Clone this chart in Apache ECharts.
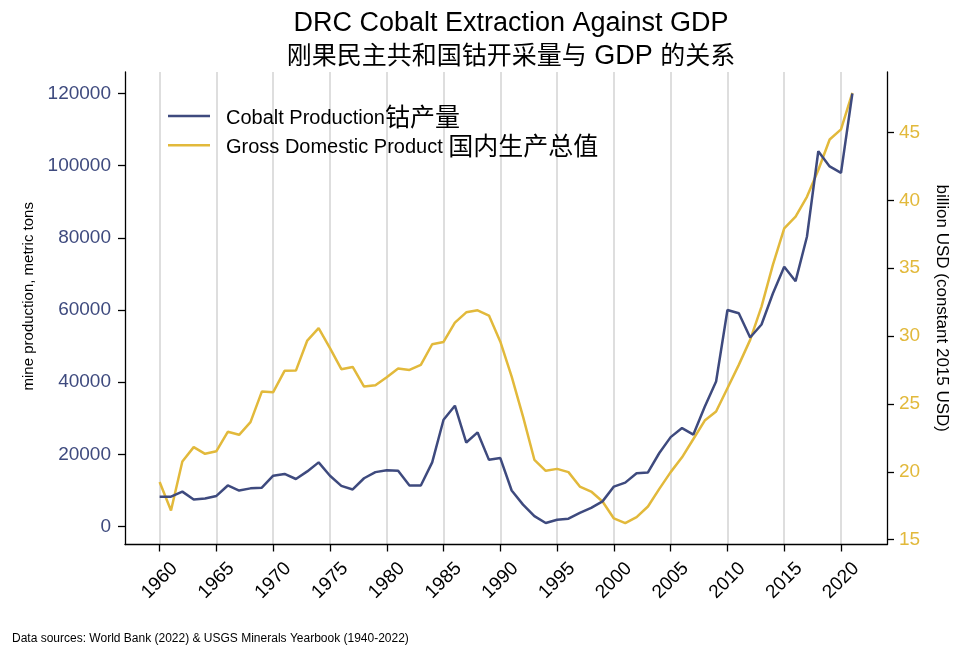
<!DOCTYPE html>
<html>
<head>
<meta charset="utf-8">
<script src="https://cdn.jsdelivr.net/npm/echarts@6/dist/echarts.min.js"></script>
<style>html,body{margin:0;padding:0;background:#fff}#c{width:960px;height:658px}</style>
</head>
<body>
<div id="c"></div>
<script>
const years = [1960,1961,1962,1963,1964,1965,1966,1967,1968,1969,1970,1971,1972,1973,1974,1975,1976,1977,1978,1979,1980,1981,1982,1983,1984,1985,1986,1987,1988,1989,1990,1991,1992,1993,1994,1995,1996,1997,1998,1999,2000,2001,2002,2003,2004,2005,2006,2007,2008,2009,2010,2011,2012,2013,2014,2015,2016,2017,2018,2019,2020,2021];
const cobalt = [8300,8300,9700,7500,7800,8500,11400,10000,10600,10800,14100,14600,13200,15300,17800,14100,11300,10300,13400,15100,15600,15500,11400,11400,17800,29600,33500,23300,26100,18500,19000,10000,6100,2900,1000,1900,2200,3800,5200,7000,11100,12200,14800,15000,20400,24800,27300,25500,33200,40200,60000,59100,52400,56000,64600,72000,68000,80300,104000,99800,98000,120000];
const gdp = [19.25,17.16,20.76,21.82,21.33,21.52,22.95,22.73,23.66,25.91,25.87,27.44,27.46,29.67,30.58,29.11,27.56,27.73,26.28,26.38,26.97,27.61,27.51,27.88,29.40,29.57,30.99,31.75,31.90,31.51,29.59,27.02,24.07,20.89,20.08,20.22,19.98,18.92,18.55,17.82,16.57,16.23,16.67,17.45,18.75,19.98,21.07,22.42,23.78,24.44,26.16,27.88,29.72,32.17,35.24,37.94,38.79,40.26,42.23,44.48,45.22,47.91];
const xTicks = [1960,1965,1970,1975,1980,1985,1990,1995,2000,2005,2010,2015,2020];
const leftTicks = [0,20000,40000,60000,80000,100000,120000];
const rightTicks = [15,20,25,30,35,40,45];
const seriesNames = ['Cobalt Production钴产量', 'Gross Domestic Product 国内生产总值'];
const titleLines = ['DRC Cobalt Extraction Against GDP', '刚果民主共和国钴开采量与 GDP 的关系'];
const leftName = 'mine production, metric tons';
const rightName = 'billion USD (constant 2015 USD)';
const source = 'Data sources: World Bank (2022) & USGS Minerals Yearbook (1940-2022)';

const LAT = "'Liberation Sans', Arial, sans-serif";
const CJK = "'Noto Sans CJK SC', sans-serif";
const FONT = "'Liberation Sans', 'Noto Sans CJK SC', sans-serif";
const BLUE = '#3e4a7e';
const GOLD = '#e2b93b';

// split into Latin / CJK runs for rich text
function richify(s, latKey) {
  latKey = latKey || 'l';
  return s.split(/([\u3400-\u9fff]+)/).filter(p => p.length).map(p =>
    /[\u3400-\u9fff]/.test(p) ? '{c|' + p + '}' : '{' + latKey + '|' + p + '}').join('');
}

const chart = echarts.init(document.getElementById('c'), null, {renderer: 'canvas'});
chart.setOption({
  animation: false,
  backgroundColor: '#fff',
  textStyle: {fontFamily: FONT},
  title: {
    text: richify(titleLines[0], 'l') + '\n' + richify(titleLines[1], 'g'),
    left: 506, textAlign: 'center', top: 3,
    textStyle: {
      fontFamily: FONT, fontSize: 27, fontWeight: 'normal', color: '#000', lineHeight: 31,
      rich: {
        l: {fontFamily: LAT, fontSize: 27, color: '#000', lineHeight: 31},
        g: {fontFamily: LAT, fontSize: 27, color: '#000', padding: [5, 0, 0, 0]},
        c: {fontFamily: CJK, fontSize: 25, color: '#000', lineHeight: 31}
      }
    }
  },
  graphic: [{
    type: 'text', left: 12, top: 633,
    style: {text: source, font: "12px 'Liberation Sans', sans-serif", fill: '#000'}
  }],
  legend: {
    orient: 'vertical', left: 163, top: 98,
    itemWidth: 42, itemHeight: 2.5, itemGap: 3.3, icon: 'rect',
    formatter: name => richify(name),
    textStyle: {
      fontFamily: FONT, fontSize: 20, color: '#000', padding: [0,0,0,11], lineHeight: 26,
      rich: {
        l: {fontFamily: LAT, fontSize: 20, color: '#000', padding: [4, 0, 0, 0]},
        c: {fontFamily: CJK, fontSize: 25, color: '#000', lineHeight: 26}
      }
    },
    data: seriesNames
  },
  grid: {left: 125, right: 73, top: 72, bottom: 113.5, containLabel: false},
  xAxis: {
    type: 'value', min: 1956.95, max: 2024.05,
    axisLine: {show: true, onZero: false, lineStyle: {color: '#000', width: 1.3}},
    axisTick: {show: true, length: 7, customValues: xTicks, lineStyle: {color: '#000', width: 1.3}},
    axisLabel: {customValues: xTicks, rotate: 45, align: 'center', verticalAlign: 'middle',
      fontSize: 19, color: '#000', margin: 36, fontFamily: LAT, formatter: v => String(v)},
    splitLine: {show: true, lineStyle: {color: '#d3d3d3', width: 1.5}}
  },
  yAxis: [{
    type: 'value', position: 'left', min: -4950, max: 125950,
    name: leftName, nameLocation: 'middle', nameGap: 88,
    nameTextStyle: {fontSize: 15, color: '#000', fontFamily: LAT, padding: [0, 0, 0, 24]},
    axisLine: {show: true, onZero: false, lineStyle: {color: '#000', width: 1.3}},
    axisTick: {show: true, length: 7, customValues: leftTicks, lineStyle: {color: '#000', width: 1.3}},
    axisLabel: {customValues: leftTicks, fontSize: 19, color: BLUE, margin: 14, fontFamily: LAT, formatter: v => String(v)},
    splitLine: {show: false}
  }, {
    type: 'value', position: 'right', min: 14.65, max: 49.45,
    name: rightName, nameLocation: 'middle', nameGap: 46, nameRotate: -90,
    nameTextStyle: {fontSize: 17, color: '#000', fontFamily: LAT},
    axisLine: {show: true, onZero: false, lineStyle: {color: '#000', width: 1.3}},
    axisTick: {show: true, length: 7, customValues: rightTicks, lineStyle: {color: '#000', width: 1.3}},
    axisLabel: {customValues: rightTicks, fontSize: 19, color: GOLD, margin: 12, fontFamily: LAT, formatter: v => String(v)},
    splitLine: {show: false}
  }],
  series: [{
    name: seriesNames[0], type: 'line', yAxisIndex: 0,
    data: years.map((y, i) => [y, cobalt[i]]),
    showSymbol: false, symbol: 'none',
    lineStyle: {color: BLUE, width: 2.5}, itemStyle: {color: BLUE}, z: 3
  }, {
    name: seriesNames[1], type: 'line', yAxisIndex: 1,
    data: years.map((y, i) => [y, gdp[i]]),
    showSymbol: false, symbol: 'none',
    lineStyle: {color: GOLD, width: 2.5}, itemStyle: {color: GOLD}, z: 2
  }]
});
</script>
</body>
</html>
